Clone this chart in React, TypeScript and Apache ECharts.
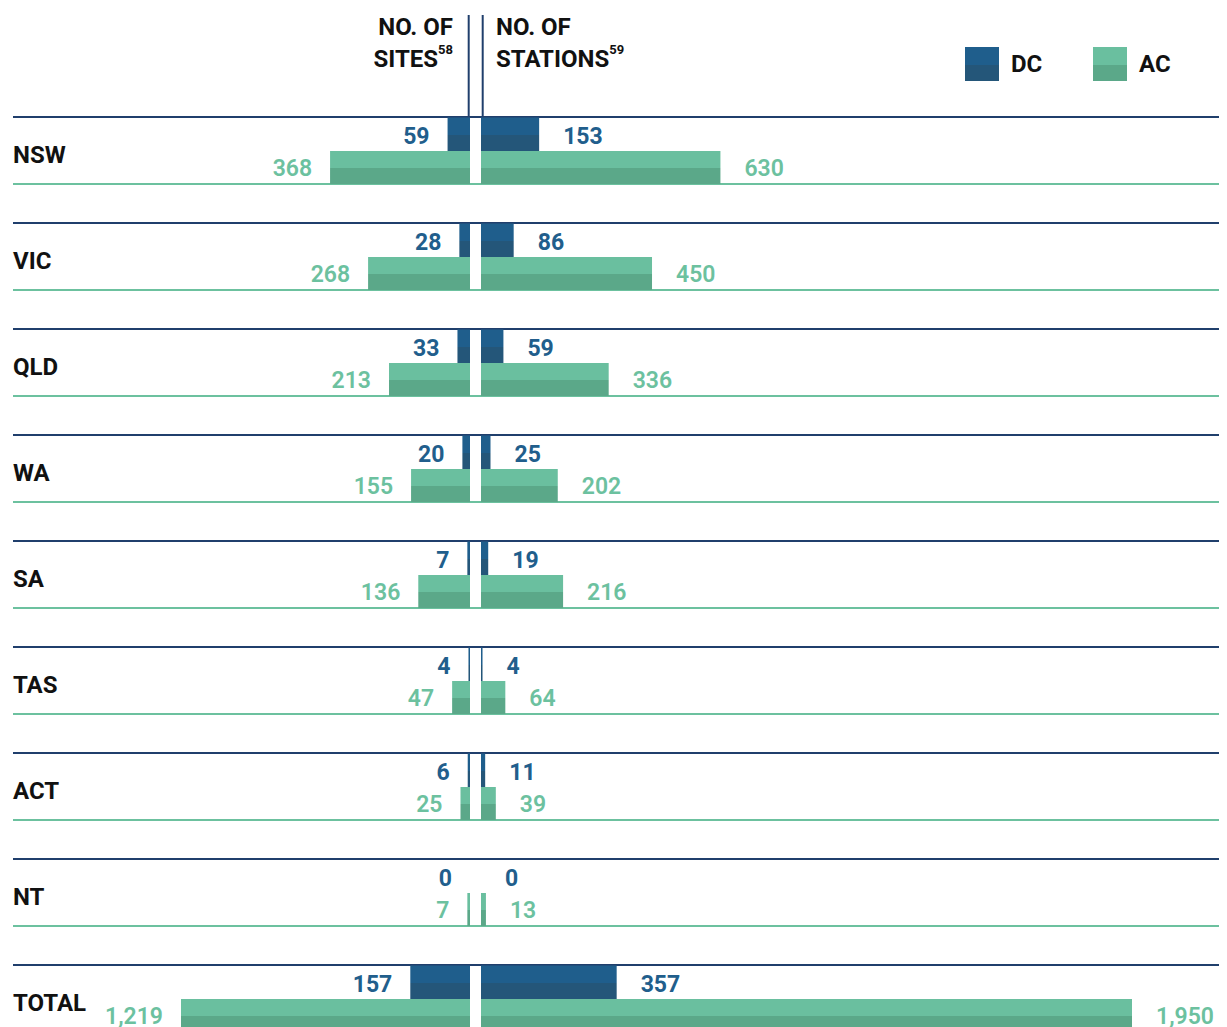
import React, { useEffect, useRef } from "react";
import * as echarts from "echarts";

const categories = ["NSW", "VIC", "QLD", "WA", "SA", "TAS", "ACT", "NT", "TOTAL"];
const sitesDC = [59, 28, 33, 20, 7, 4, 6, 0, 157];
const sitesAC = [368, 268, 213, 155, 136, 47, 25, 7, 1219];
const stationsDC = [153, 86, 59, 25, 19, 4, 11, 0, 357];
const stationsAC = [630, 450, 336, 202, 216, 64, 39, 13, 1950];
const legendItems = ["DC", "AC"];

const SITES_AXIS_MAX = 760;
const STATIONS_AXIS_MAX = 1713;

const FONT = 'Roboto, "Noto Sans", sans-serif';
const NAVY = "#203f6c";
const BLUE_TXT = "#215e8c";
const GREEN_TXT = "#6cc19f";
const INK = "#111111";

function twoTone(top: string, bottom: string) {
  return new echarts.graphic.LinearGradient(0, 0, 0, 1, [
    { offset: 0, color: top },
    { offset: 0.52, color: top },
    { offset: 0.52, color: bottom },
    { offset: 1, color: bottom },
  ]);
}

const fmt = (p: any) => Number(p.value).toLocaleString("en-US");

export default function App() {
  const ref = useRef<HTMLDivElement>(null);

  useEffect(() => {
    if (!ref.current) return;
    const chart = echarts.init(ref.current, undefined, { renderer: "svg" });
    const dcColor = twoTone("#1f5e8c", "#245679");
    const acColor = twoTone("#6abf9f", "#5ba889");

    const bandH = 954;
    const dcTop = 81.25;
    const acTop = 114.5;

    const hiddenCat = (gridIndex: number) => ({
      gridIndex,
      type: "category",
      data: categories,
      inverse: true,
      show: false,
    });

    const dcLabel = (pos: string, dist: number) => ({
      show: true,
      position: pos,
      distance: dist,
      offset: [0, 2],
      color: BLUE_TXT,
      fontFamily: FONT,
      fontSize: 23,
      lineHeight: 18,
      fontWeight: "bold",
      formatter: fmt,
    });
    const acLabel = (pos: string, dist: number) => ({
      show: true,
      position: pos,
      distance: dist,
      offset: [0, 1],
      color: GREEN_TXT,
      fontFamily: FONT,
      fontSize: 23,
      lineHeight: 18,
      fontWeight: 600,
      formatter: fmt,
    });

    const headerStyle = (text: string, align: string) => ({
      text,
      align,
      verticalAlign: "top",
      fontFamily: FONT,
      fontSize: 24,
      fontWeight: "bold",
      fill: INK,
      lineHeight: 32,
      rich: {
        sup: {
          fontFamily: FONT,
          fontSize: 13,
          fontWeight: "bold",
          fill: INK,
          verticalAlign: "top",
          lineHeight: 22,
        },
      },
    });

    const legendBox = (name: string, left: number) => ({
      data: [name],
      left,
      top: 47,
      padding: 0,
      itemWidth: 34,
      itemHeight: 34,
      icon: "rect",
      selectedMode: false,
      textStyle: {
        fontFamily: FONT,
        fontSize: 24,
        fontWeight: "bold",
        color: INK,
        padding: [4, 0, 0, 7],
      },
    });

    chart.setOption({
      animation: false,
      backgroundColor: "#ffffff",
      grid: [
        { left: 181, width: 289, top: dcTop, height: bandH },
        { left: 181, width: 289, top: acTop, height: bandH },
        { left: 481, width: 651, top: dcTop, height: bandH },
        { left: 481, width: 651, top: acTop, height: bandH },
        { left: 13, right: 8, top: 116.7, height: bandH },
        { left: 13, right: 8, top: 184, height: bandH },
        { left: 13, width: 120, top: 101.5, height: bandH },
      ],
      xAxis: [
        { gridIndex: 0, type: "value", min: 0, max: SITES_AXIS_MAX, inverse: true, show: false },
        { gridIndex: 1, type: "value", min: 0, max: SITES_AXIS_MAX, inverse: true, show: false },
        { gridIndex: 2, type: "value", min: 0, max: STATIONS_AXIS_MAX, show: false },
        { gridIndex: 3, type: "value", min: 0, max: STATIONS_AXIS_MAX, show: false },
        { gridIndex: 4, type: "value", min: 0, max: 1, show: false },
        { gridIndex: 5, type: "value", min: 0, max: 1, show: false },
        { gridIndex: 6, type: "value", min: 0, max: 1, show: false },
      ],
      yAxis: [
        hiddenCat(0),
        hiddenCat(1),
        hiddenCat(2),
        hiddenCat(3),
        {
          gridIndex: 4,
          type: "category",
          data: categories,
          inverse: true,
          axisLine: { show: false },
          axisTick: { show: false },
          axisLabel: { show: false },
          splitLine: { show: true, interval: 0, lineStyle: { color: NAVY, width: 2 } },
        },
        {
          gridIndex: 5,
          type: "category",
          data: categories,
          inverse: true,
          axisLine: { show: false },
          axisTick: { show: false },
          axisLabel: { show: false },
          splitLine: { show: true, interval: 0, lineStyle: { color: GREEN_TXT, width: 2 } },
        },
        {
          gridIndex: 6,
          type: "category",
          data: categories,
          inverse: true,
          axisLine: { show: false },
          axisTick: { show: false },
          splitLine: { show: false },
          axisLabel: {
            interval: 0,
            align: "left",
            margin: 0,
            fontFamily: FONT,
            fontSize: 24,
            fontWeight: "bold",
            color: INK,
          },
        },
      ],
      legend: [legendBox(legendItems[0], 965), legendBox(legendItems[1], 1093)],
      series: [
        {
          type: "bar",
          name: "DC",
          xAxisIndex: 0,
          yAxisIndex: 0,
          data: sitesDC,
          barWidth: 33.5,
          itemStyle: { color: dcColor },
          label: dcLabel("left", 18),
          silent: true,
        },
        {
          type: "bar",
          name: "AC",
          xAxisIndex: 1,
          yAxisIndex: 1,
          data: sitesAC,
          barWidth: 33,
          itemStyle: { color: acColor },
          label: acLabel("left", 18),
          silent: true,
        },
        {
          type: "bar",
          name: "DC",
          xAxisIndex: 2,
          yAxisIndex: 2,
          data: stationsDC,
          barWidth: 33.5,
          itemStyle: { color: dcColor },
          label: dcLabel("right", 24),
          silent: true,
        },
        {
          type: "bar",
          name: "AC",
          xAxisIndex: 3,
          yAxisIndex: 3,
          data: stationsAC,
          barWidth: 33,
          itemStyle: { color: acColor },
          label: acLabel("right", 24),
          silent: true,
        },
      ],
      graphic: [
        {
          type: "line",
          shape: { x1: 468.7, y1: 15, x2: 468.7, y2: 116 },
          style: { stroke: NAVY, lineWidth: 2 },
        },
        {
          type: "line",
          shape: { x1: 482.7, y1: 15, x2: 482.7, y2: 116 },
          style: { stroke: NAVY, lineWidth: 2 },
        },
        {
          type: "text",
          x: 453,
          y: 11,
          style: headerStyle("NO. OF\nSITES{sup|58}", "right"),
        },
        {
          type: "text",
          x: 496,
          y: 11,
          style: headerStyle("NO. OF\nSTATIONS{sup|59}", "left"),
        },
      ],
    });

    return () => chart.dispose();
  }, []);

  return (
    <div
      ref={ref}
      style={{ position: "fixed", left: 0, top: 0, width: 1227, height: 1150, background: "#fff" }}
    />
  );
}
